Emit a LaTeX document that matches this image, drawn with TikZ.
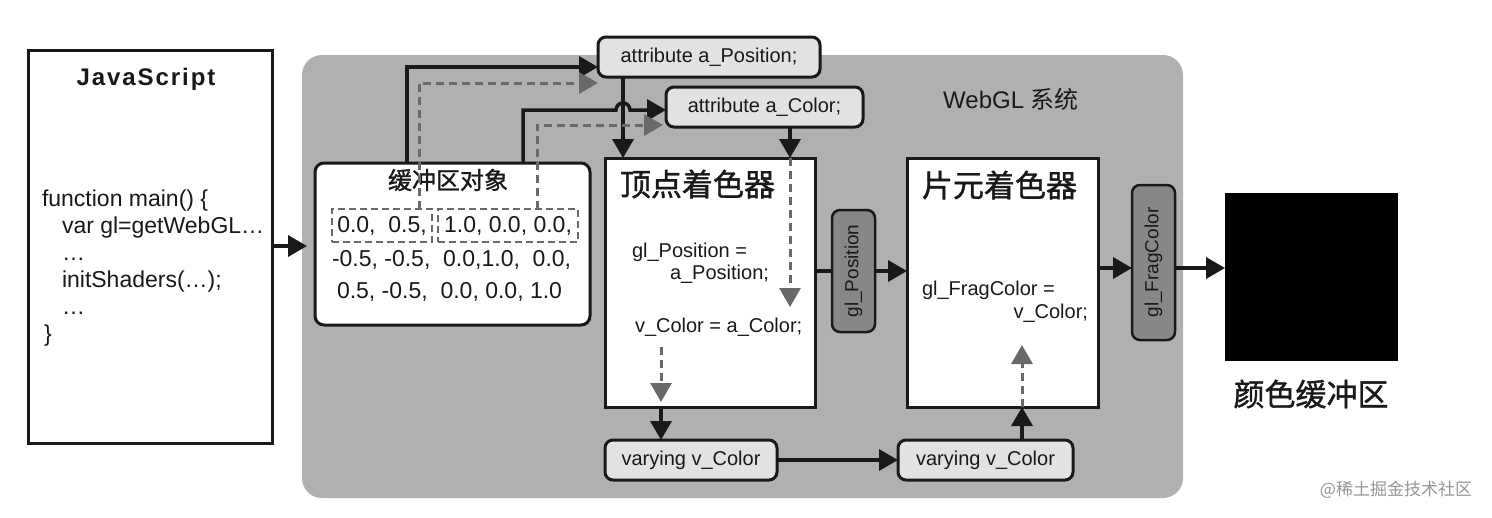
\documentclass[tikz,border=0pt]{standalone}
\usepackage{fontspec}
\setmainfont{Liberation Sans}
\newfontfamily\cjk{Noto Sans CJK SC}
\newfontfamily\cjkb[FakeBold=1.2]{Noto Sans CJK SC}
\usetikzlibrary{arrows.meta,calc}
\definecolor{panelgray}{RGB}{176,176,176}
\definecolor{lightbox}{RGB}{226,226,226}
\definecolor{pillfill}{RGB}{135,135,135}
\definecolor{dashgray}{RGB}{105,105,105}
\definecolor{inkc}{RGB}{25,25,25}
\definecolor{wmgray}{RGB}{150,150,150}
\begin{document}
\begin{tikzpicture}[x=1pt,y=-1pt,
  every node/.style={inner sep=0pt, outer sep=0pt, text=inkc},
  boxframe/.style={draw=inkc, line width=3pt, fill=white},
  rframe/.style={boxframe, rounded corners=9pt},
  attrbox/.style={boxframe, fill=lightbox, rounded corners=8pt, font=\fontsize{20}{24}\selectfont},
  pillbox/.style={draw=inkc, line width=2.5pt, fill=pillfill, rounded corners=8pt},
  pilltext/.style={rotate=90, font=\fontsize{19}{22}\selectfont},
  arr/.style={draw=inkc, line width=3.5pt, -{Triangle[length=19pt,width=21pt]}},
  solidline/.style={draw=inkc, line width=3.5pt},
  darr/.style={draw=dashgray, line width=3pt, dash pattern=on 8pt off 5pt, -{Triangle[length=19pt,width=21pt]}},
  dbox/.style={draw=dashgray, line width=2.5pt, dash pattern=on 7pt off 4pt, minimum height=33pt, font=\fontsize{23}{27}\selectfont},
  ftw/.style={font=\fontsize{20}{24}\selectfont},
  ftd/.style={font=\fontsize{23}{27}\selectfont},
  ftc/.style={font=\fontsize{23}{27}\selectfont},
  cjktitle/.style={font=\cjkb\fontsize{31}{34}\selectfont},
]
\useasboundingbox (0,0) rectangle (1492,517);
\fill[white] (0,0) rectangle (1492,517);

% gray WebGL panel
\node[fill=panelgray, rounded corners=20pt, minimum width=881pt, minimum height=443pt] (panel) at (742.5,276.5) {};
\node[font=\fontsize{24}{28}\selectfont] (webgl) at (1011,99) {WebGL {\cjk 系统}};

% JavaScript box
\node[boxframe, minimum width=244pt, minimum height=393pt] (js) at (150,246.5) {};
\node[font=\bfseries\fontsize{24}{28}\selectfont\addfontfeatures{LetterSpace=8}] (jstitle) at (146,79) {JavaScript};
\node[ftc, anchor=base west] (c1) at (42,206) {function main() \{};
\node[ftc, anchor=base west] (c2) at (62,233) {var gl=getWebGL…};
\node[ftc, anchor=base west] (c3) at (62,260) {…};
\node[ftc, anchor=base west] (c4) at (62,287) {initShaders(…);};
\node[ftc, anchor=base west] (c5) at (62,314) {…};
\node[ftc, anchor=base west] (c6) at (44,341) {\}};

% buffer object
\node[rframe, minimum width=275pt, minimum height=162pt] (buf) at (452.5,244) {};
\node[font=\cjkb\fontsize{24}{28}\selectfont] (buftitle) at (448,180) {缓冲区对象};
\node[dbox, minimum width=100pt] (dbox1) at (382,225.5) {0.0,\ \ 0.5,};
\node[dbox, minimum width=140pt] (dbox2) at (508,225.5) {1.0, 0.0, 0.0,};
\node[ftd, anchor=base west] (d2) at (332,266) {-0.5, -0.5,\ \ 0.0,1.0,\ \ 0.0,};
\node[ftd, anchor=base west] (d3) at (337,298) {0.5, -0.5,\ \ 0.0, 0.0, 1.0};

% attribute boxes
\node[attrbox, minimum width=222pt, minimum height=40pt] (apos) at (709,57) {attribute a\_Position;};
\node[attrbox, minimum width=197pt, minimum height=40pt] (acol) at (764.5,107) {attribute a\_Color;};

% vertex shader
\node[boxframe, minimum width=210pt, minimum height=249pt] (vs) at (710,282.5) {};
\node[cjktitle, anchor=west] (vstitle) at (620,184) {顶点着色器};
\node[ftw, anchor=base west] (v1) at (632,257) {gl\_Position =};
\node[ftw, anchor=base west] (v2) at (670,279) {a\_Position;};
\node[ftw, anchor=base west] (v3) at (635,332) {v\_Color = a\_Color;};

% fragment shader
\node[boxframe, minimum width=191pt, minimum height=249pt] (fs) at (1002.5,282.5) {};
\node[cjktitle, anchor=west] (fstitle) at (922,185) {片元着色器};
\node[ftw, anchor=base west] (f1) at (922,295) {gl\_FragColor =};
\node[ftw, anchor=base east] (f2) at (1088,318) {v\_Color;};

% pills
\node[pillbox, minimum width=43pt, minimum height=122pt] (glpos) at (853.5,271) {};
\node[pilltext] (glposT) at (glpos) {gl\_Position};
\node[pillbox, minimum width=43pt, minimum height=155pt] (glfrag) at (1153.5,262.5) {};
\node[pilltext] (glfragT) at (glfrag) {gl\_FragColor};

% color buffer
\node[fill=black, draw=black, minimum width=172pt, minimum height=167pt] (cbuf) at (1311,276.5) {};
\node[cjktitle] (cbuftitle) at (1311,394) {颜色缓冲区};

% varying boxes
\node[attrbox, minimum width=172pt, minimum height=40pt] (var1) at (691,460) {varying v\_Color};
\node[attrbox, minimum width=175pt, minimum height=40pt] (var2) at (985.5,460) {varying v\_Color};

% watermark
\node[font=\cjk\fontsize{17}{20}\selectfont, text=wmgray] (wm) at (1396,490) {@稀土掘金技术社区};

% helper coordinates
\coordinate (xA) at (407,0);
\coordinate (xB) at (419,0);
\coordinate (xC) at (523,0);
\coordinate (xD) at (537,0);
\coordinate (xE) at (623,0);
\coordinate (xF) at (790,0);
\coordinate (xG) at (661,0);
\coordinate (xH) at (1022,0);
\coordinate (hopL) at (616,110);
\coordinate (yjs) at (0,246);
\coordinate (yrow) at (0,268);
\coordinate (vsd) at (790,307);
\coordinate (vsc) at (661,347);
\coordinate (fsc) at (1022,345);

% connectors
\draw[arr] (js.east |- yjs) -- ($(panel.west |- yjs)+(5,0)$);
\draw[arr] (buf.north -| xA) |- ([yshift=-10pt]apos.west);
\draw[darr] (dbox1.north -| xB) |- ([yshift=-6pt]apos.south west);
\draw[arr] (apos.south -| xE) -- (vs.north -| xE);
\draw[arr] (buf.north -| xC) -- (xC |- hopL) -- (hopL) arc[start angle=180, end angle=0, radius=7pt] -- ([yshift=-3pt]acol.west);
\draw[darr, shorten >=3pt] (dbox2.north -| xD) |- ([yshift=2pt]acol.south west);
\draw[arr] (acol.south -| xF) -- (vs.north -| xF);
\draw[darr] (vs.north -| xF) -- (vsd);
\draw[darr, shorten >=5pt] (vsc) -- (vs.south -| xG);
\draw[arr] (vs.south -| xG) -- (var1.north -| xG);
\draw[arr] (var1.east) -- (var2.west);
\draw[arr] (var2.north -| xH) -- (fs.south -| xH);
\draw[darr] (fs.south -| xH) -- (fsc);
\draw[solidline] (vs.east |- glpos.west) -- (glpos.west);
\draw[arr] (glpos.east) -- (glpos.east -| fs.west);
\draw[arr] (fs.east |- yrow) -- (glfrag.west |- yrow);
\draw[arr] (glfrag.east |- yrow) -- (cbuf.west |- yrow);
\end{tikzpicture}
\end{document}
